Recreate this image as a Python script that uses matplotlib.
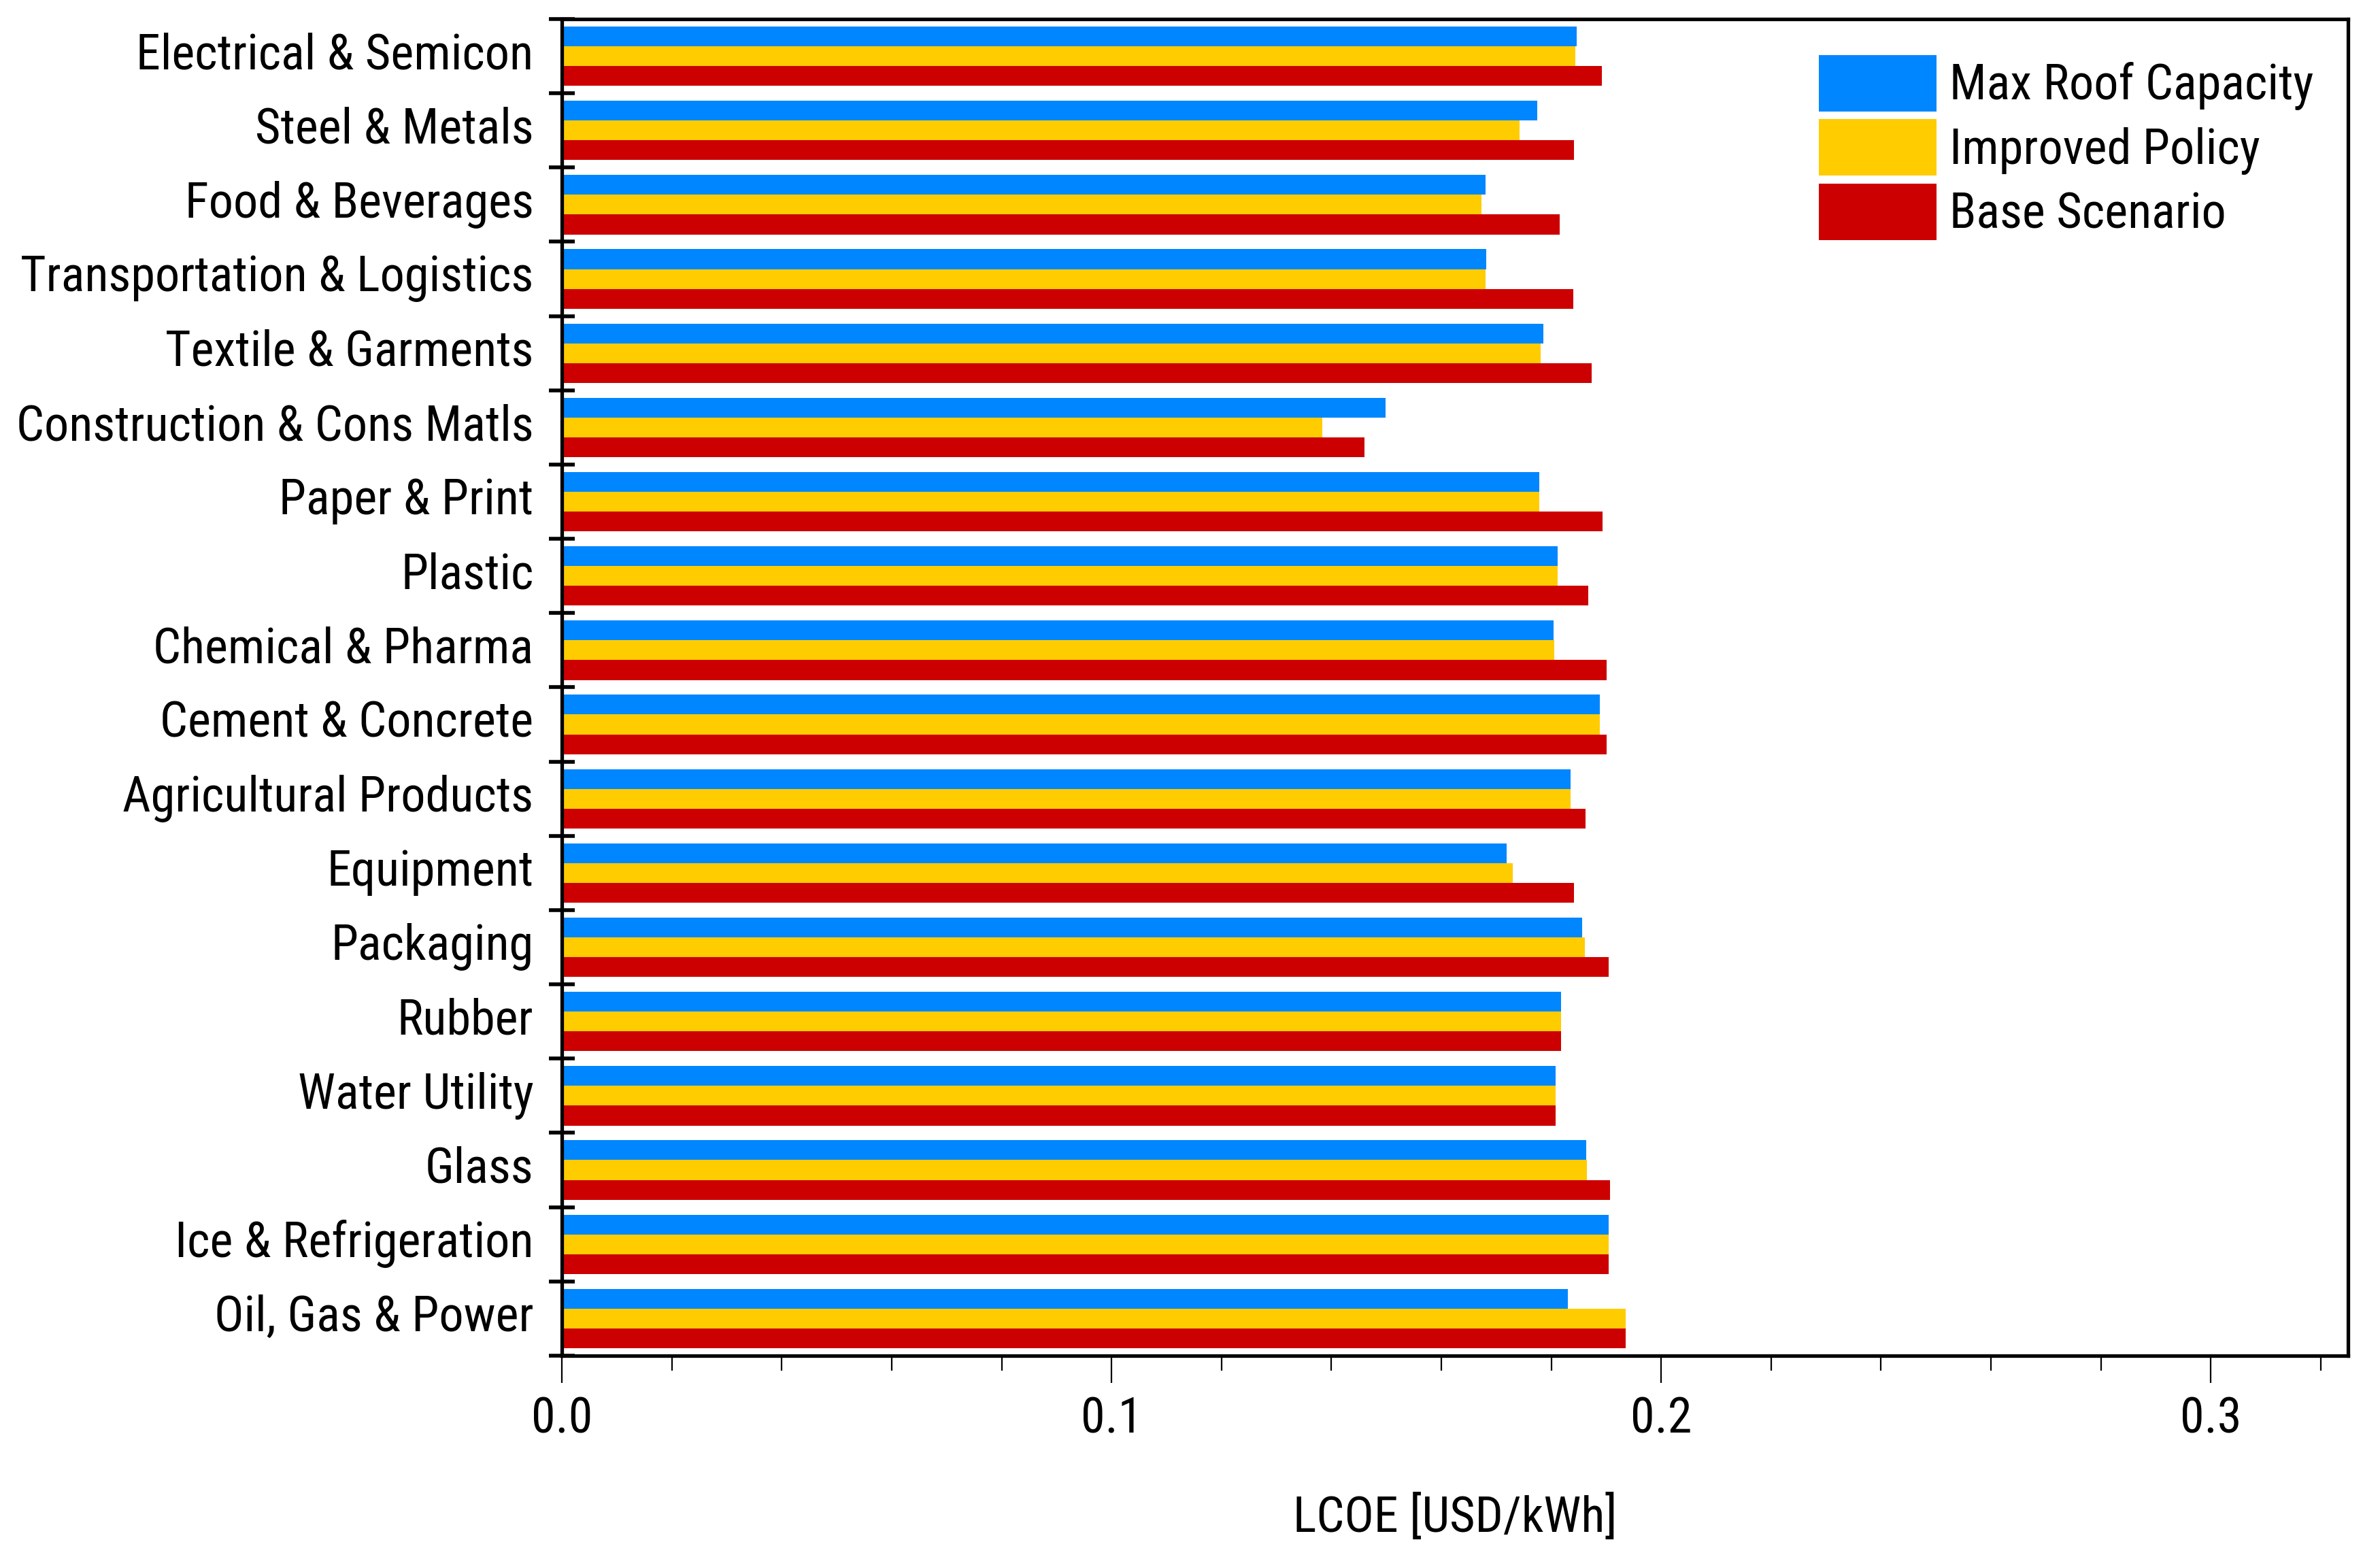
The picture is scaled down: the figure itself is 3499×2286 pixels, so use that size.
import matplotlib
matplotlib.use("Agg")
import matplotlib.pyplot as plt
from matplotlib.ticker import MultipleLocator, FixedLocator, FormatStrFormatter
from matplotlib.transforms import ScaledTranslation
import numpy as np

plt.rcParams['font.family'] = ['Roboto Condensed', 'Liberation Sans Narrow',
                               'Noto Sans', 'DejaVu Sans']
plt.rcParams['font.stretch'] = 'condensed'

# sectors, top to bottom
sectors = ['Electrical & Semicon', 'Steel & Metals', 'Food & Beverages',
           'Transportation & Logistics', 'Textile & Garments',
           'Construction & Cons Matls', 'Paper & Print', 'Plastic',
           'Chemical & Pharma', 'Cement & Concrete', 'Agricultural Products',
           'Equipment', 'Packaging', 'Rubber', 'Water Utility', 'Glass',
           'Ice & Refrigeration', 'Oil, Gas & Power']

# LCOE [USD/kWh]
max_roof = [0.1846, 0.1775, 0.1680, 0.1682, 0.1786, 0.1499, 0.1778, 0.1812,
            0.1804, 0.1889, 0.1835, 0.1719, 0.1856, 0.1818, 0.1808, 0.1864,
            0.1905, 0.1830]
improved = [0.1844, 0.1742, 0.1673, 0.1681, 0.1781, 0.1383, 0.1778, 0.1812,
            0.1806, 0.1889, 0.1835, 0.1730, 0.1861, 0.1818, 0.1808, 0.1865,
            0.1905, 0.1935]
base = [0.1892, 0.1841, 0.1815, 0.1840, 0.1874, 0.1460, 0.1893, 0.1868,
        0.1901, 0.1901, 0.1863, 0.1842, 0.1904, 0.1818, 0.1808, 0.1907,
        0.1905, 0.1935]

series_names = ['Max Roof Capacity', 'Improved Policy', 'Base Scenario']
colors = ['#0086ff', '#ffcc00', '#cc0000']
fs = 52

fig = plt.figure(figsize=(34.99, 22.86), dpi=100)
ax = fig.add_axes([0.2361, 0.1282, 0.9866 - 0.2361, 0.98775 - 0.1282])

y = np.arange(len(sectors))
h = 0.8 / 3
for k, (vals, name, c) in enumerate(zip([max_roof, improved, base], series_names, colors)):
    ax.barh(y + (k - 1) * h, vals, height=h, color=c, label=name, linewidth=0)

ax.set_ylim(len(sectors) - 0.5, -0.5)
ax.set_xlim(0, 0.325)

# x axis
ax.xaxis.set_major_locator(MultipleLocator(0.1))
ax.xaxis.set_minor_locator(MultipleLocator(0.02))
ax.xaxis.set_major_formatter(FormatStrFormatter('%.1f'))
ax.tick_params(axis='x', which='major', direction='out', length=29, width=1.6,
               labelsize=fs, pad=14)
ax.tick_params(axis='x', which='minor', direction='out', length=16, width=1.6)

# y axis: labels centred on groups, ticks on group boundaries
ax.set_yticks(y)
ax.set_yticklabels(sectors)
ax.yaxis.set_minor_locator(FixedLocator(np.arange(len(sectors) + 1) - 0.5))
ax.tick_params(axis='y', which='major', length=0, labelsize=fs, pad=30)
ax.tick_params(axis='y', which='minor', direction='inout', length=27, width=4)
# labels sit a little above the group centre in the original
shift = ScaledTranslation(0, 6 / 72, fig.dpi_scale_trans)
for lab in ax.get_yticklabels():
    lab.set_transform(lab.get_transform() + shift)

for s in ax.spines.values():
    s.set_linewidth(3.8)

ax.set_xlabel('LCOE [USD/kWh]', fontsize=fs, labelpad=54)

leg = ax.legend(loc='upper left', bbox_to_anchor=(0.7642, 0.9646),
                bbox_transform=fig.transFigure, frameon=False, fontsize=fs,
                handlelength=2.40, handleheight=1.39, handletextpad=0.26,
                labelspacing=0.16, borderpad=0, borderaxespad=0)

fig.savefig('out.png', dpi=100)
